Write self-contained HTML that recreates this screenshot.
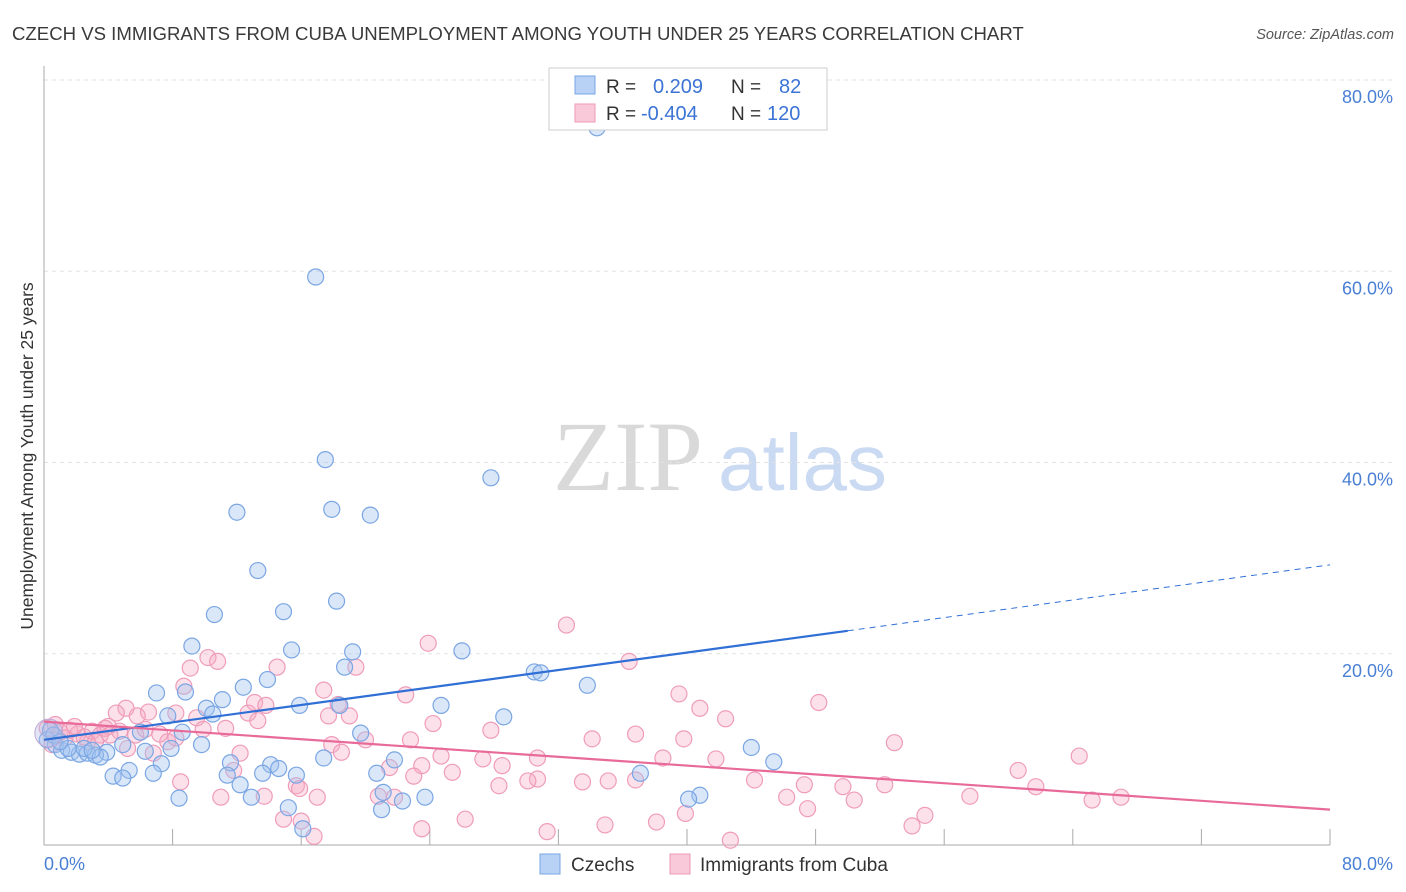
<!DOCTYPE html>
<html><head><meta charset="utf-8"><style>
body{margin:0;background:#fff;font-family:"Liberation Sans",sans-serif;}
#c{position:relative;width:1406px;height:892px;overflow:hidden}
</style></head><body>
<div id="c">
<svg id="s" width="1406" height="892" xmlns="http://www.w3.org/2000/svg">
<text x="12" y="40" font-size="18.6" fill="#3a3a3a">CZECH VS IMMIGRANTS FROM CUBA UNEMPLOYMENT AMONG YOUTH UNDER 25 YEARS CORRELATION CHART</text>
<text x="1394" y="39" font-size="14.5" fill="#555" font-style="italic" text-anchor="end">Source: ZipAtlas.com</text>
<text x="553" y="490" font-size="100" fill="#d9d9d9" font-family="Liberation Serif,serif">ZIP</text>
<text x="718" y="490" font-size="80" fill="#c9daf2">atlas</text>
<g id="grid"></g><g id="pts"></g><g id="lines"></g>
<text transform="translate(33,456) rotate(-90)" font-size="17.5" fill="#333" text-anchor="middle">Unemployment Among Youth under 25 years</text>
<g>
<rect x="549" y="68" width="278" height="62" fill="#fff" stroke="#ccc"/>
<rect x="575" y="76" width="20" height="18" fill="#b8d2f5" stroke="#7aa5e6"/>
<rect x="575" y="104" width="20" height="18" fill="#fac9d9" stroke="#ee9ab8"/>
<text x="606" y="93" font-size="19" fill="#333">R = </text><text x="653" y="93" font-size="20" fill="#3b74d4">0.209</text>
<text x="731" y="93" font-size="19" fill="#333">N = </text><text x="779" y="93" font-size="20" fill="#3b74d4">82</text>
<text x="606" y="120" font-size="19" fill="#333">R = </text><text x="641" y="120" font-size="20" fill="#3b74d4">-0.404</text>
<text x="731" y="120" font-size="19" fill="#333">N = </text><text x="767" y="120" font-size="20" fill="#3b74d4">120</text>
</g>
<g>
<rect x="540" y="854" width="20" height="20" fill="#b8d2f5" stroke="#7aa5e6"/>
<text x="571" y="871" font-size="19" fill="#333">Czechs</text>
<rect x="670" y="854" width="20" height="20" fill="#fac9d9" stroke="#ee9ab8"/>
<text x="700" y="871" font-size="19" fill="#333">Immigrants from Cuba</text>
</g>
</svg>
</div>
<script>
const xTicks=[0,8,16,24,32,40,48,56,64,72,80];
const yTicks=[20,40,60,80];
const yTickLabels=["20.0%","40.0%","60.0%","80.0%"];
const xTickLabels=["0.0%","80.0%"];
const blueX=[34.4,16.9,17.5,27.8,12.0,17.9,20.3,13.3,18.2,10.6,14.9,9.2,15.4,19.2,26.0,18.7,30.5,30.9,33.8,13.9,12.4,7.0,8.8,11.1,15.9,18.4,24.7,10.1,10.5,7.7,28.6,8.6,6.0,19.7,7.9,9.8,6.3,4.9,3.9,44.0,7.3,17.4,11.6,14.1,14.6,21.8,45.4,5.3,6.8,4.3,4.9,11.4,13.6,15.7,20.7,37.1,12.2,21.1,12.9,8.4,23.7,22.3,40.8,40.1,15.2,21.0,16.1,0.4,0.7,1.1,1.7,2.2,2.7,3.2,3.5,1.5,2.5,3.0,0.2,0.6,1.0];
const blueY=[75.0,59.4,40.3,38.4,34.8,35.1,34.5,28.7,25.5,24.1,24.4,20.8,20.4,20.2,20.3,18.6,18.1,18.0,16.7,17.3,16.5,15.9,16.0,15.2,14.6,14.6,14.6,14.3,13.7,13.5,13.4,11.8,11.8,11.7,10.1,10.5,9.8,10.5,9.7,10.2,8.5,9.1,8.6,8.4,8.0,8.9,8.7,7.8,7.5,7.2,7.0,7.3,7.5,7.3,7.5,7.5,6.3,5.5,5.0,4.9,5.0,4.6,5.2,4.8,3.9,3.7,1.7,12.0,10.5,9.9,9.7,9.5,9.6,9.4,9.2,10.1,10.1,9.9,11.0,11.5,10.8];
const pinkX=[32.5,23.9,36.4,10.2,10.8,9.1,14.5,19.4,8.7,17.4,22.5,39.5,48.2,40.8,13.1,13.8,18.3,5.1,6.5,4.5,8.2,5.8,9.5,12.7,17.7,19.0,42.4,13.3,24.2,4.0,9.9,11.3,27.8,36.8,39.8,34.1,22.8,20.0,52.9,7.7,2.7,17.9,5.2,12.2,6.8,18.5,24.7,64.4,30.7,27.3,38.5,41.8,28.5,23.5,21.5,11.8,60.6,25.4,23.0,30.7,30.1,35.1,36.8,44.2,8.5,15.7,28.3,33.5,47.3,49.7,52.3,61.7,15.9,20.8,13.7,11.0,21.8,46.2,57.6,17.0,50.4,65.2,67.0,47.5,39.9,54.8,14.9,26.2,16.0,34.9,38.1,54.0,23.5,31.3,42.7,16.8,0.2,1.0,1.6,2.1,3.0,3.5,1.3,0.7,2.5,3.8,3.2,1.9,4.1,4.7,5.7,6.3,7.2,8.2,0.5];
const pinkY=[23.0,21.1,19.2,19.6,19.2,18.5,18.6,18.6,16.6,16.2,15.7,15.8,14.9,14.3,14.9,14.6,14.7,14.3,13.9,13.8,13.8,13.5,13.3,13.8,13.5,13.5,13.2,13.0,12.7,12.4,12.1,12.2,12.0,11.6,11.1,11.1,11.0,11.0,10.7,10.8,10.8,10.5,10.1,9.6,9.6,9.7,9.3,9.3,9.1,9.0,9.1,9.0,8.3,8.3,8.1,7.8,7.8,7.6,7.2,6.9,6.7,6.7,6.8,6.8,6.6,6.2,6.2,6.6,6.3,6.1,6.3,6.1,5.9,5.1,5.1,5.0,5.0,5.0,5.1,5.0,4.7,4.7,5.0,3.8,3.3,3.1,2.7,2.7,2.5,2.1,2.4,2.0,1.7,1.4,0.5,0.9,12.2,11.8,12.0,11.6,11.9,11.5,11.2,12.6,11.3,12.2,10.8,12.4,11.5,11.9,11.5,12.1,11.6,11.2,10.5];
const blueLine=[11.0,22.4,29.3]; // y at x=0, 50, 80
const pinkLine=[12.9,3.7]; // y at x=0, 80
const NS="http://www.w3.org/2000/svg";
const X=v=>44+v*16.075, Y=v=>845-v*9.5625;
function mk(t,a,p){const e=document.createElementNS(NS,t);for(const k in a)e.setAttribute(k,a[k]);p.appendChild(e);return e;}
const g=document.getElementById('grid');
yTicks.forEach((v,i)=>{
 const l=mk('line',{x1:44,x2:1394,y1:Y(v),y2:Y(v),stroke:'#e2e2e2','stroke-dasharray':'4,4'},g);
 
 
 const t=mk('text',{x:1393,y:Y(v)+23,'font-size':18,fill:'#4a7fd4','text-anchor':'end'},g);t.textContent=yTickLabels[i];
 
 
});
mk('line',{x1:44,x2:44,y1:66,y2:845,stroke:'#aaa'},g);
mk('line',{x1:44,x2:1330,y1:845,y2:845,stroke:'#aaa'},g);
xTicks.forEach(v=>{const l=mk('line',{x1:X(v),x2:X(v),y1:829,y2:845,stroke:'#aaa'},g);
 
 });
let t=mk('text',{x:44,y:870,'font-size':18,fill:'#4a7fd4'},g);t.textContent=xTickLabels[0];


t=mk('text',{x:1393,y:870,'font-size':18,fill:'#4a7fd4','text-anchor':'end'},g);t.textContent=xTickLabels[1];


const p=document.getElementById('pts');
pinkX.forEach((x,i)=>{const c=mk('circle',{cx:X(x),cy:Y(pinkY[i]),r:8,fill:'rgba(246,170,195,0.35)',stroke:'#ef9cba','stroke-width':1.2},p);
 
 });
blueX.forEach((x,i)=>{const c=mk('circle',{cx:X(x),cy:Y(blueY[i]),r:8,fill:'rgba(160,195,240,0.4)',stroke:'#7ba6e3','stroke-width':1.2},p);
 
 });
let b=mk('circle',{cx:X(0.3),cy:Y(11.7),r:14,fill:'rgba(180,190,230,0.4)',stroke:'#c0a9d6'},p);


const L=document.getElementById('lines');
let ln=mk('line',{x1:X(0),y1:Y(blueLine[0]),x2:X(50),y2:Y(blueLine[1]),stroke:'#2f6fd6','stroke-width':2.2},L);


ln=mk('line',{x1:X(50),y1:Y(blueLine[1]),x2:X(80),y2:Y(blueLine[2]),stroke:'#2f6fd6','stroke-width':1,'stroke-dasharray':'6,5'},L);


ln=mk('line',{x1:X(0),y1:Y(pinkLine[0]),x2:X(80),y2:Y(pinkLine[1]),stroke:'#e86a98','stroke-width':2.2},L);


</script>
</body></html>
